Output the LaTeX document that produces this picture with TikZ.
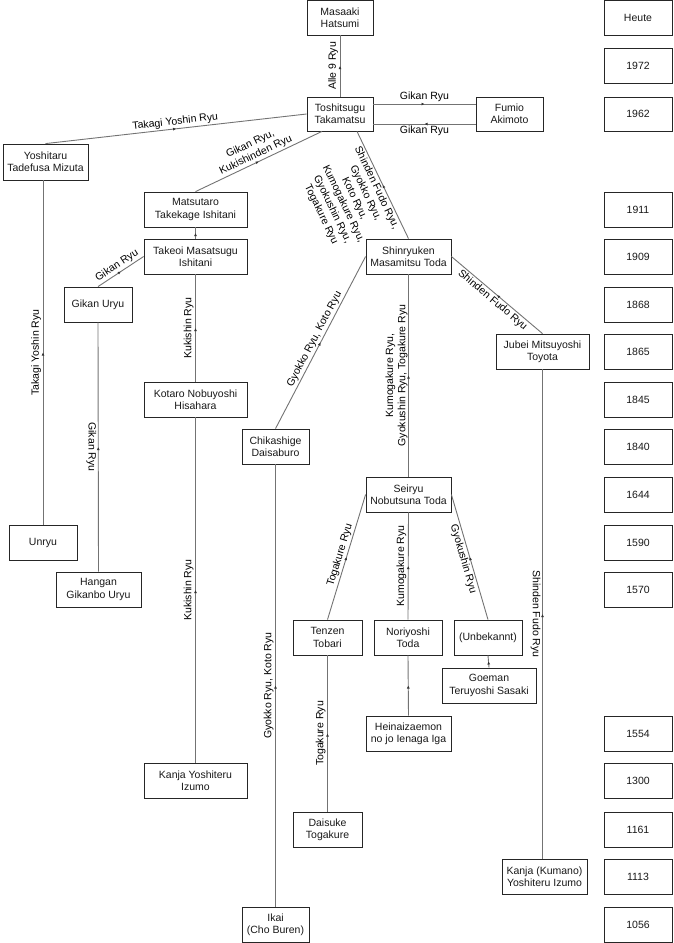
\documentclass[tikz,border=0pt]{standalone}
\usepackage{fontspec}
\setmainfont{Liberation Sans}
\usetikzlibrary{arrows.meta,decorations.markings}
\begin{document}
\begin{tikzpicture}[x=1pt,y=-1pt,
  box/.style={draw=black!85, line width=0.8pt, fill=white, align=center, inner sep=1pt,
    font=\fontsize{10.5}{12.3}\selectfont, text=black!90},
  conn/.style={draw=black!55, line width=0.9pt, postaction={decorate},
    decoration={markings, mark=at position 0.5 with {\arrow[black!80]{Latex[length=3pt,width=3pt]}}}},
  lbl/.style={font=\fontsize{10.5}{12.3}\selectfont, text=black, inner sep=1.5pt, align=center}]
\useasboundingbox (0,0) rectangle (673,943);
% people
\node[box, minimum width=66pt, minimum height=34.5pt] (hatsumi) at (340,17.75) {Masaaki\\Hatsumi};
\node[box, minimum width=66pt, minimum height=34pt] (tosh) at (340,114) {Toshitsugu\\Takamatsu};
\node[box, minimum width=67pt, minimum height=34pt] (fumio) at (509.5,114) {Fumio\\Akimoto};
\node[box, minimum width=85pt, minimum height=36pt] (yoshitaru) at (45.5,162) {Yoshitaru\\Tadefusa Mizuta};
\node[box, minimum width=103pt, minimum height=35pt] (matsutaro) at (195.5,209.5) {Matsutaro\\Takekage Ishitani};
\node[box, minimum width=103pt, minimum height=35pt] (takeoi) at (195.5,256.5) {Takeoi Masatsugu\\Ishitani};
\node[box, minimum width=68pt, minimum height=35pt] (gikanuryu) at (98,304.5) {Gikan Uryu};
\node[box, minimum width=103pt, minimum height=35pt] (kotaro) at (195.5,399.5) {Kotaro Nobuyoshi\\Hisahara};
\node[box, minimum width=67pt, minimum height=35pt] (chikashige) at (275.5,446.5) {Chikashige\\Daisaburo};
\node[box, minimum width=85pt, minimum height=35pt] (shinryuken) at (408.5,256.5) {Shinryuken\\Masamitsu Toda};
\node[box, minimum width=93pt, minimum height=35pt] (jubei) at (542.5,351.5) {Jubei Mitsuyoshi\\Toyota};
\node[box, minimum width=68pt, minimum height=35pt] (unryu) at (43,542.5) {Unryu};
\node[box, minimum width=85pt, minimum height=35pt] (hangan) at (98.5,589.5) {Hangan\\Gikanbo Uryu};
\node[box, minimum width=85pt, minimum height=35pt] (seiryu) at (408.5,494.5) {Seiryu\\Nobutsuna Toda};
\node[box, minimum width=69pt, minimum height=35pt] (tenzen) at (327.5,637.5) {Tenzen\\Tobari};
\node[box, minimum width=68pt, minimum height=35pt] (noriyoshi) at (408,637.5) {Noriyoshi\\Toda};
\node[box, minimum width=68pt, minimum height=35pt] (unbekannt) at (488,637.5) {(Unbekannt)};
\node[box, minimum width=94pt, minimum height=35pt] (goeman) at (489,685.5) {Goeman\\Teruyoshi Sasaki};
\node[box, minimum width=85pt, minimum height=35pt] (heinai) at (408.5,733.5) {Heinaizaemon\\no jo Ienaga Iga};
\node[box, minimum width=103pt, minimum height=35pt] (kanjaiz) at (195.5,780.5) {Kanja Yoshiteru\\Izumo};
\node[box, minimum width=69pt, minimum height=35pt] (daisuke) at (327.5,829.5) {Daisuke\\Togakure};
\node[box, minimum width=85pt, minimum height=35pt] (kanjakum) at (544.5,876.5) {Kanja (Kumano)\\Yoshiteru Izumo};
\node[box, minimum width=67pt, minimum height=35pt] (ikai) at (275.5,924.5) {Ikai\\(Cho Buren)};
% years
\node[box, minimum width=68pt, minimum height=34.5pt] (yHeute) at (638,17.75) {Heute};
\node[box, minimum width=68pt, minimum height=35pt] (y1972) at (638,65.5) {1972};
\node[box, minimum width=68pt, minimum height=34pt] (y1962) at (638,114) {1962};
\node[box, minimum width=68pt, minimum height=35pt] (y1911) at (638,209.5) {1911};
\node[box, minimum width=68pt, minimum height=35pt] (y1909) at (638,256.5) {1909};
\node[box, minimum width=68pt, minimum height=35pt] (y1868) at (638,304.5) {1868};
\node[box, minimum width=68pt, minimum height=35pt] (y1865) at (638,351.5) {1865};
\node[box, minimum width=68pt, minimum height=35pt] (y1845) at (638,399.5) {1845};
\node[box, minimum width=68pt, minimum height=35pt] (y1840) at (638,446.5) {1840};
\node[box, minimum width=68pt, minimum height=35pt] (y1644) at (638,494.5) {1644};
\node[box, minimum width=68pt, minimum height=35pt] (y1590) at (638,542.5) {1590};
\node[box, minimum width=68pt, minimum height=35pt] (y1570) at (638,589.5) {1570};
\node[box, minimum width=68pt, minimum height=35pt] (y1554) at (638,733.5) {1554};
\node[box, minimum width=68pt, minimum height=35pt] (y1300) at (638,780.5) {1300};
\node[box, minimum width=68pt, minimum height=35pt] (y1161) at (638,829.5) {1161};
\node[box, minimum width=68pt, minimum height=35pt] (y1113) at (638,876.5) {1113};
\node[box, minimum width=68pt, minimum height=35pt] (y1056) at (638,924.5) {1056};
% connectors
\draw[conn] (tosh.north) -- (hatsumi.south) node[midway, rotate=90, anchor=south, lbl] {Alle 9 Ryu};
\draw[conn] ([yshift=10pt]tosh.east) -- ([yshift=10pt]fumio.west) node[midway, above, lbl] {Gikan Ryu};
\draw[conn] ([yshift=-10pt]fumio.west) -- ([yshift=-10pt]tosh.east) node[midway, below, lbl] {Gikan Ryu};
\draw[conn] (yoshitaru.north) -- (tosh.west) node[midway, sloped, above, lbl] {Takagi Yoshin Ryu};
\draw[conn] (matsutaro.north) -- ([xshift=-18pt]tosh.south) node[midway, sloped, above, lbl] {Gikan Ryu,\\Kukishinden Ryu};
\draw[conn] (shinryuken.north) -- ([xshift=17pt]tosh.south) node[midway, sloped, below, lbl] {Shinden Fudo Ryu,\\Gyokko Ryu,\\Koto Ryu,\\Kumogakure Ryu,\\Gyokushin Ryu,\\Togakure Ryu};
\draw[conn] (takeoi.north) -- (matsutaro.south);
\draw[conn] (gikanuryu.north) -- (takeoi.west) node[midway, sloped, above, lbl] {Gikan Ryu};
\draw[conn] (kotaro.north) -- (takeoi.south) node[midway, rotate=90, anchor=south, lbl] {Kukishin Ryu};
\draw[conn] (kanjaiz.north) -- (kotaro.south) node[midway, rotate=90, anchor=south, lbl] {Kukishin Ryu};
\draw[conn] (unryu.north) -- (unryu.north |- yoshitaru.south) node[midway, rotate=90, anchor=south, lbl] {Takagi Yoshin Ryu};
\draw[conn] (hangan.north) -- (gikanuryu.south) node[midway, rotate=-90, anchor=north, lbl] {Gikan Ryu};
\draw[conn] (chikashige.north) -- (shinryuken.west) node[midway, sloped, above, lbl] {Gyokko Ryu, Koto Ryu};
\draw[conn] (ikai.north) -- (chikashige.south) node[midway, rotate=90, anchor=south, lbl] {Gyokko Ryu, Koto Ryu};
\draw[conn] (jubei.north) -- (shinryuken.east) node[midway, sloped, below, lbl] {Shinden Fudo Ryu};
\draw[conn] (seiryu.north) -- (shinryuken.south) node[midway, rotate=90, anchor=south, lbl, inner sep=0.5pt] {Kumogakure Ryu,\\Gyokushin Ryu, Togakure Ryu};
\draw[conn] (jubei.south |- kanjakum.north) -- (jubei.south) node[midway, rotate=-90, anchor=north, lbl] {Shinden Fudo Ryu};
\draw[conn] (tenzen.north) -- (seiryu.west) node[midway, sloped, above, lbl] {Togakure Ryu};
\draw[conn] (noriyoshi.north) -- (seiryu.south) node[midway, rotate=90, anchor=south, lbl] {Kumogakure Ryu};
\draw[conn] (unbekannt.north) -- (seiryu.east) node[midway, sloped, below, lbl] {Gyokushin Ryu};
\draw[conn] (daisuke.north) -- (tenzen.south) node[midway, rotate=90, anchor=south, lbl] {Togakure Ryu};
\draw[conn] (heinai.north) -- (noriyoshi.south);
\draw[conn] (goeman.north) -- (unbekannt.south);
\end{tikzpicture}
\end{document}
